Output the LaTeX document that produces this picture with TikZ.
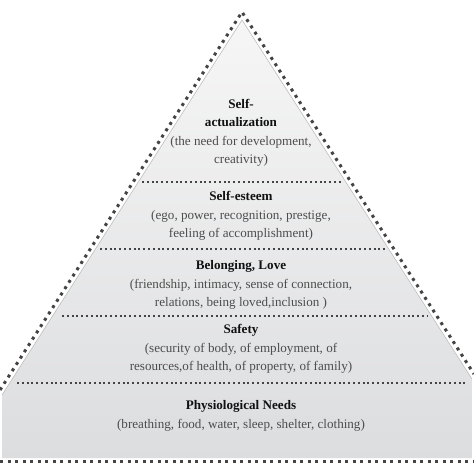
\documentclass[tikz,border=0pt]{standalone}
\usepackage{fontspec}
\setmainfont{Liberation Serif}
\definecolor{dotcol}{HTML}{444444}
\definecolor{desccol}{HTML}{4D4D4D}
\definecolor{titlecol}{HTML}{111111}
\definecolor{filltop}{HTML}{F6F6F6}
\definecolor{fillbot}{HTML}{DCDDDF}
\tikzset{
  outerdots/.style={draw=dotcol, line width=3pt, dash pattern=on 3pt off 4.5pt},
  divdots/.style={draw=dotcol, line width=2pt, dash pattern=on 2pt off 2.8pt},
  level/.style={align=center, text=desccol, font=\fontsize{13.1}{18.5}\selectfont, inner sep=0pt},
}
\newcommand{\ttl}[1]{\textcolor{titlecol}{\textbf{#1}}}
\begin{document}
\begin{tikzpicture}[x=1pt,y=-1pt]
\useasboundingbox (0,0) rectangle (474,474);
\fill[white] (0,0) rectangle (474,474);
% pyramid body
\shade[top color=filltop, bottom color=fillbot] (242,20) -- (2,395) -- (2,458) -- (472,458) -- (472,379) -- cycle;
\draw[black!25, line width=0.6pt] (2,395) -- (242,20) -- (472,379);
% outer dotted outline
\draw[outerdots] (0,390) -- (242,12) -- (474,374);
\draw[outerdots] (0,461) -- (474,461);
% dividers
\draw[divdots] (142,182) -- (343,182);
\draw[divdots] (100,249) -- (385,249);
\draw[divdots] (62,316) -- (427,316);
\draw[divdots] (17,383) -- (465,383);
% levels
\node[level] (l1) at (241,133) {\ttl{Self-}\\\ttl{actualization}\\(the need for development,\\creativity)};
\node[level] (l2) at (241,216) {\ttl{Self-esteem}\\(ego, power, recognition, prestige,\\feeling of accomplishment)};
\node[level] (l3) at (241,285) {\ttl{Belonging, Love}\\(friendship, intimacy, sense of connection,\\relations, being loved,inclusion )};
\node[level] (l4) at (241,349) {\ttl{Safety}\\(security of body, of employment, of\\resources,of health, of property, of family)};
\node[level] (l5) at (241,416) {\ttl{Physiological Needs}\\(breathing, food, water, sleep, shelter, clothing)};
\end{tikzpicture}
\end{document}
